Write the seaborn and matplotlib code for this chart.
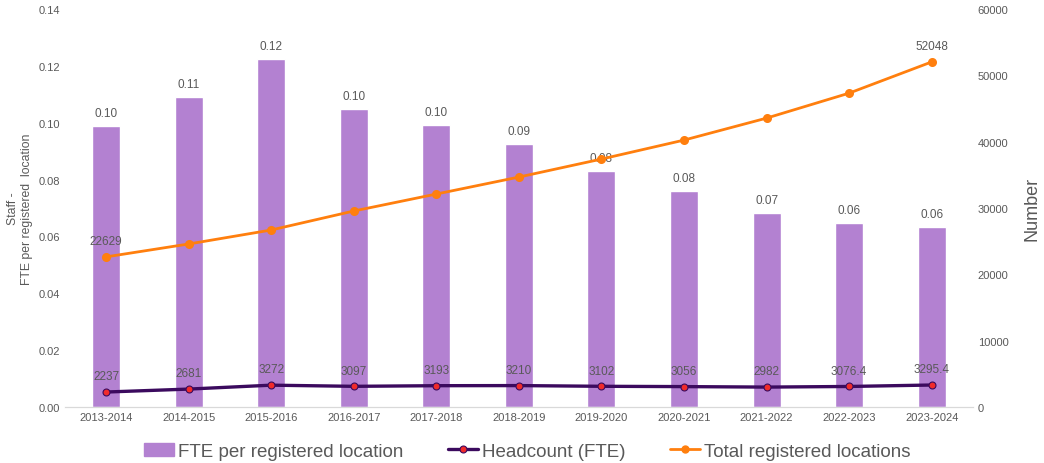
import matplotlib
matplotlib.use("Agg")
import matplotlib.pyplot as plt
import seaborn as sns
import pandas as pd
from matplotlib.patches import Patch
from matplotlib.lines import Line2D

years = ['2013-2014', '2014-2015', '2015-2016', '2016-2017', '2017-2018', '2018-2019',
         '2019-2020', '2020-2021', '2021-2022', '2022-2023', '2023-2024']
fte_per_location = [0.0989, 0.1091, 0.1226, 0.1048, 0.0994, 0.0926, 0.083, 0.0759, 0.0684, 0.0649, 0.0633]
headcount = [2237, 2681, 3272, 3097, 3193, 3210, 3102, 3056, 2982, 3076.4, 3295.4]
locations = [22629, 24573, 26683, 29548, 32110, 34673, 37387, 40250, 43568, 47337, 52048]

df = pd.DataFrame({'year': years, 'fte': fte_per_location,
                   'headcount': headcount, 'locations': locations})

sns.set_style("white")
plt.rcParams['font.family'] = ['Liberation Sans', 'DejaVu Sans']

text_col = '#595959'
bar_col = '#B381D1'
orange = '#FF7F0E'
dark = '#3B0A5E'
red = '#F02B2B'

fig = plt.figure(figsize=(10.44, 4.64), dpi=100)
ax = fig.add_axes([0.062, 0.121, 0.870, 0.857])

# bars - FTE per location (left axis)
sns.barplot(data=df, x='year', y='fte', color=bar_col, width=0.34, saturation=1, ax=ax)
ax.set_ylim(0, 0.14)
ax.set_yticks([0, 0.02, 0.04, 0.06, 0.08, 0.10, 0.12, 0.14])
ax.set_yticklabels([f"{t:.2f}" for t in ax.get_yticks()])
for i, v in enumerate(df['fte']):
    ax.annotate(f"{v:.2f}", (i, v), xytext=(0, 5), textcoords='offset points',
                ha='center', va='bottom', fontsize=8.5, color=text_col)

# lines - counts (right axis)
ax2 = ax.twinx()
sns.pointplot(data=df, x='year', y='locations', color=orange, markers='o',
              markersize=5, linewidth=2, ax=ax2)
sns.pointplot(data=df, x='year', y='headcount', color=dark, markers='o',
              markersize=5, linewidth=2.4, markerfacecolor=red,
              markeredgecolor=dark, markeredgewidth=0.8, ax=ax2)
ax2.set_ylim(0, 60000)
ax2.set_yticks(range(0, 60001, 10000))
for i in [0, len(locations) - 1]:
    ax2.annotate(f"{locations[i]}", (i, locations[i]), xytext=(0, 7), textcoords='offset points',
                 ha='center', va='bottom', fontsize=8.5, color=text_col)
for i, v in enumerate(headcount):
    ax2.annotate(f"{v:g}", (i, v), xytext=(0, 7), textcoords='offset points',
                 ha='center', va='bottom', fontsize=8.5, color=text_col)

ax.set_xlim(-0.5, len(years) - 0.5)
ax.set_xlabel('')
ax.set_ylabel('Staff -\nFTE per registered  location', fontsize=8.8, color=text_col)
ax2.set_ylabel('Number', fontsize=13, color=text_col, labelpad=11)
ax2.set_xlabel('')

for a in (ax, ax2):
    for s in ['top', 'left', 'right']:
        a.spines[s].set_visible(False)
    a.spines['bottom'].set_color('#D9D9D9')
    a.tick_params(length=0, labelsize=8, colors=text_col)

handles = [Patch(color=bar_col),
           Line2D([], [], color=dark, lw=2.4, marker='o', markersize=5,
                  markerfacecolor=red, markeredgecolor=dark, markeredgewidth=0.8),
           Line2D([], [], color=orange, lw=2, marker='o', markersize=5)]
fig.legend(handles, ['FTE per registered location', 'Headcount (FTE)', 'Total registered locations'],
           loc='lower center', bbox_to_anchor=(0.505, -0.03), ncol=3, frameon=False,
           fontsize=13.5, labelcolor=text_col, handlelength=1.6, handletextpad=0.2,
           columnspacing=2.4)

fig.savefig('out.png', dpi=100)
